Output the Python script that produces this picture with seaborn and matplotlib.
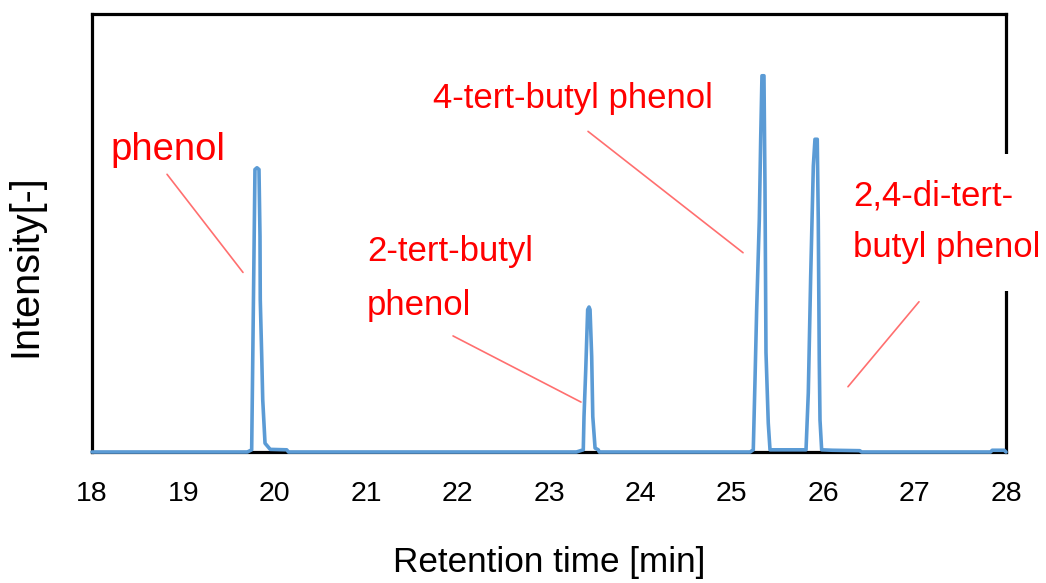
import matplotlib
matplotlib.use("Agg")
import matplotlib.pyplot as plt
import seaborn as sns
import pandas as pd

# Chromatogram trace (retention time [min], relative intensity)
time_min = [18.00, 19.70, 19.747, 19.754, 19.772, 19.783, 19.805, 19.827, 19.838, 19.841,
            19.857, 19.868, 19.893, 19.95, 20.13, 20.15,
            23.30, 23.375, 23.383, 23.402, 23.423, 23.438, 23.449, 23.467, 23.479, 23.504,
            23.539, 23.55,
            25.20, 25.235, 25.254, 25.272, 25.301, 25.316, 25.330, 25.352, 25.363, 25.374,
            25.399, 25.418,
            25.812, 25.837, 25.863, 25.892, 25.910, 25.935, 25.946, 25.957, 25.965, 25.983,
            26.10, 26.40, 26.42,
            27.83, 27.85, 27.98, 28.00]
intensity = [0.0, 0.0, 0.005, 0.127, 0.447, 0.645, 0.649, 0.645, 0.493, 0.348,
             0.218, 0.119, 0.020, 0.006, 0.005, 0.0,
             0.0, 0.005, 0.081, 0.188, 0.325, 0.331, 0.325, 0.218, 0.081, 0.009,
             0.005, 0.0,
             0.0, 0.005, 0.165, 0.325, 0.531, 0.714, 0.859, 0.859, 0.607, 0.227,
             0.066, 0.005,
             0.005, 0.135, 0.401, 0.653, 0.714, 0.714, 0.531, 0.211, 0.073, 0.005,
             0.004, 0.003, 0.0,
             0.0, 0.004, 0.004, 0.0]

x_ticks = [18, 19, 20, 21, 22, 23, 24, 25, 26, 27, 28]

# Labels: (text, x, y) and leader lines (x0, y0, x1, y1)
label_texts = ["phenol", "2-tert-butyl\nphenol", "4-tert-butyl phenol", "2,4-di-tert-\nbutyl phenol"]
label_x = [18.197, 21.009, 21.731, 26.326]
label_y = [0.690, 0.397, 0.806, 0.525]
leader_x0 = [18.821, 21.950, 23.427, 27.048]
leader_y0 = [0.634, 0.265, 0.732, 0.343]
leader_x1 = [19.652, 23.350, 25.123, 26.271]
leader_y1 = [0.410, 0.114, 0.455, 0.149]

df = pd.DataFrame({"Retention time [min]": time_min, "Intensity[-]": intensity})

sns.set_style("white")
plt.rcParams["font.family"] = ["Liberation Sans", "DejaVu Sans"]

fig = plt.figure(figsize=(10.46, 5.83), dpi=100)
ax = fig.add_axes([92 / 1046, 131 / 583, (1006 - 92) / 1046, (452 - 14) / 583])

sns.lineplot(data=df, x="Retention time [min]", y="Intensity[-]", ax=ax,
             color="#5B9BD5", linewidth=2.6, sort=False, estimator=None)
for l in ax.lines:
    l.set_clip_on(False)
    l.set_zorder(3)

ax.set_xlim(18, 28)
ax.set_ylim(0, 1)
ax.set_xticks(x_ticks)
ax.set_xticklabels([str(t) for t in x_ticks])
ax.set_yticks([])
ax.tick_params(axis="x", length=0, pad=21, labelsize=20.5, colors="black")
ax.set_xlabel("Retention time [min]", fontsize=25.3, labelpad=28, color="black")
ax.set_ylabel("Intensity[-]", fontsize=28.5, color="black")
ax.yaxis.set_label_coords(-0.052, 0.425)

for s in ax.spines.values():
    s.set_visible(True)
    s.set_color("black")
    s.set_linewidth(2.3)

for x0, y0, x1, y1 in zip(leader_x0, leader_y0, leader_x1, leader_y1):
    ax.plot([x0, x1], [y0, y1], color="#FF6F6F", linewidth=1.2, zorder=4)

sizes = [27.5, 25, 25, 25]
spacings = [1.0, 1.8, 1.0, 1.7]
for i, (txt, tx, ty) in enumerate(zip(label_texts, label_x, label_y)):
    kw = {}
    if i == 3:
        kw["bbox"] = dict(facecolor="white", edgecolor="none", pad=19)
    ax.text(tx, ty, txt, color="#FF0000", fontsize=sizes[i], ha="left", va="center",
            linespacing=spacings[i], zorder=6, clip_on=False, **kw)

fig.savefig("out.png", dpi=100)
